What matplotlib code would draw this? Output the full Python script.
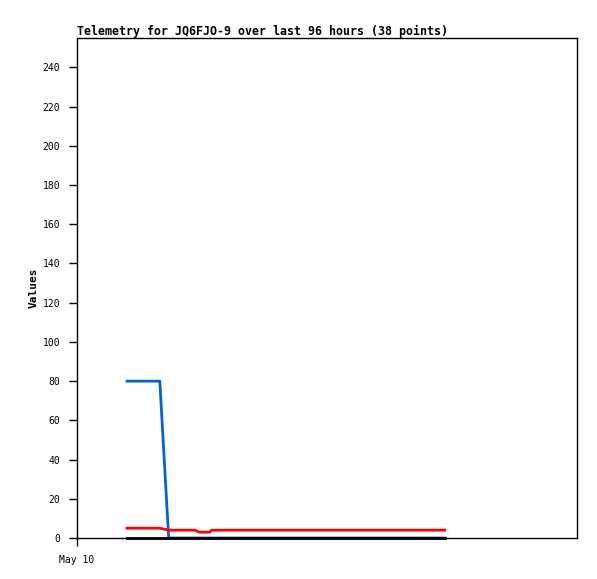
import matplotlib
import matplotlib.pyplot as plt

matplotlib.use('Agg')

# hours since May 10 00:00
hours = [9.6, 15.9, 17.6, 22.7, 23.4, 25.5, 25.9, 70.6]
blue_vals = [80, 80, 0, 0, 0, 0, 0, 0]
red_vals = [5, 5, 4, 4, 3, 3, 4, 4]
black_vals = [0, 0, 0, 0, 0, 0, 0, 0]

y_ticks = list(range(0, 241, 20))
x_ticks = [0]
x_labels = ['May 10']

mono = 'DejaVu Sans Mono'

fig = plt.figure(figsize=(5.97, 5.79), dpi=100)
ax = fig.add_axes([77 / 597, 1 - 538 / 579, 500 / 597, 500 / 579])

ax.plot(hours, blue_vals, color='#0066cc', lw=2, zorder=3)
ax.plot(hours, red_vals, color='#ff0000', lw=2, zorder=4)
ax.plot(hours, black_vals, color='black', lw=2, zorder=5, clip_on=False)

ax.set_xlim(0, 96)
ax.set_ylim(0, 255)
ax.set_yticks(y_ticks)
ax.set_yticklabels([str(v) for v in y_ticks], family=mono, fontsize=7)
ax.set_xticks(x_ticks)
ax.set_xticklabels(x_labels, family=mono, fontsize=7)
ax.tick_params(direction='out', length=6, width=1, pad=6)

for s in ax.spines.values():
    s.set_linewidth(1)
    s.set_color('black')

ax.set_ylabel('Values', family=mono, fontsize=8, fontweight='bold', labelpad=3)
fig.text(77 / 597, 1 - 31 / 579, 'Telemetry for JQ6FJO-9 over last 96 hours (38 points)',
         family=mono, fontsize=8.4, fontweight='bold', ha='left', va='center')

plt.savefig('out.png', dpi=100)
